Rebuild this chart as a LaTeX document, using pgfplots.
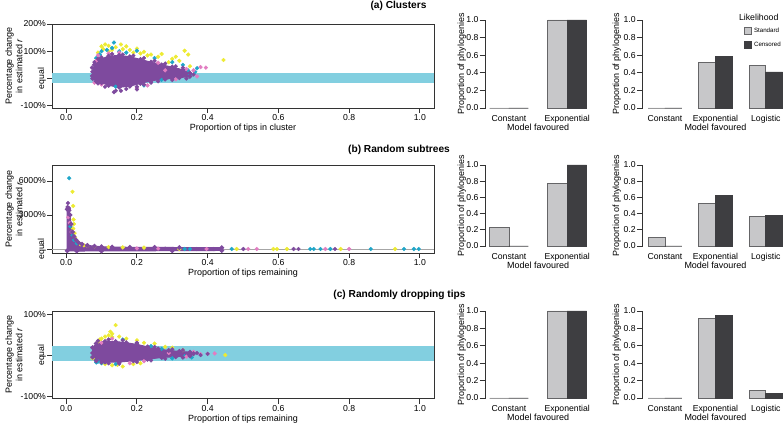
\documentclass[border=0pt]{standalone}
\usepackage{pgfplots}
\pgfplotsset{compat=1.18}
\usepackage{fontspec}
\setmainfont{Liberation Sans}
\usepackage{graphicx}
\definecolor{cpurple}{HTML}{7E4A9E}
\definecolor{cyellow}{HTML}{EDEB33}
\definecolor{ccyan}{HTML}{1FA6C9}
\definecolor{cpink}{HTML}{E27DC2}
\definecolor{cband}{HTML}{82CFE0}
\definecolor{clight}{HTML}{C7C7C9}
\definecolor{cdark}{HTML}{3E3E41}
\definecolor{caxis}{HTML}{333333}
\pgfplotsset{
 sc/.style={scale only axis, width=382bp, xmin=-0.04, xmax=1.04,
  axis line style={draw=caxis, line width=0.9bp},
  tick style={draw=caxis, line width=0.8bp},
  tick align=outside, major tick length=5bp,
  xtick pos=bottom, ytick pos=left,
  xtick={0,0.2,0.4,0.6,0.8,1}, xticklabels={0.0,0.2,0.4,0.6,0.8,1.0},
  ticklabel style={font=\fontsize{8.7}{10}\selectfont, text=black, inner sep=0.3bp},
  xticklabel style={anchor=base, yshift=-8bp},
  yticklabel style={inner sep=1bp},
  label style={font=\fontsize{9}{10.5}\selectfont, inner sep=0.3bp},
  xlabel style={at={(axis description cs:0.5,0)}, anchor=base, yshift=-23bp},
  ylabel style={at={(axis description cs:-0.0995,0.5)}, anchor=center, align=center},
  ylabel={Percentage change\\in estimated \textit{r}},
 },
 band/.style={fill=cband, draw=none, forget plot},
 pts/.style={only marks, mark=*, mark size=1.9bp, color=#1},
 core/.style={fill=cpurple, draw=cpurple, line width=1bp, mark=*, mark size=1.9bp},
 bc/.style={scale only axis, ymin=0, ymax=1, enlargelimits=false, clip=false,
  axis y line*=left, axis x line*=bottom,
  x axis line style={draw=none}, xtick style={draw=none},
  y axis line style={draw=caxis, line width=0.8bp},
  ytick style={draw=caxis, line width=0.8bp},
  tick align=outside, major tick length=6bp,
  ytick={0,0.2,0.4,0.6,0.8,1}, yticklabels={0.0,0.2,0.4,0.6,0.8,1.0},
  ticklabel style={font=\fontsize{8.7}{10}\selectfont, text=black, inner sep=0.3bp},
  yticklabel style={inner sep=1bp},
  xticklabel style={anchor=base, yshift=-7.5bp},
  label style={font=\fontsize{9}{10.5}\selectfont, inner sep=0.3bp},
  xlabel style={at={(axis description cs:0.5,0)}, anchor=base, yshift=-23bp},
  xlabel={Model favoured}, ylabel={Proportion of phylogenies},
 },
 bcA/.style={bc, width=104.8bp, xmin=0.8, xmax=6.2, xtick={2,5}, xticklabels={Constant,Exponential},
  ylabel style={at={(axis description cs:-0.229,0.5)}, anchor=center}},
 bcB/.style={bc, width=145.2bp, xmin=0.68, xmax=9.32, xtick={2,5,8}, xticklabels={Constant,Exponential,Logistic},
  ylabel style={at={(axis description cs:-0.179,0.5)}, anchor=center}},
 lb/.style={ybar, bar width=1, bar shift=0, fill=clight, draw=cdark!80, line width=0.8bp},
 db/.style={ybar, bar width=1, bar shift=0, fill=cdark, draw=cdark, line width=0.8bp},
}
\begin{document}
\begin{tikzpicture}
\useasboundingbox (0,0) rectangle (783bp,425bp);
% titles
\node[font=\fontsize{10.2}{12}\selectfont\bfseries] at (398.5bp,419bp) {(a) Clusters};
\node[font=\fontsize{10.2}{12}\selectfont\bfseries] at (399bp,275bp) {(b) Random subtrees};
\node[font=\fontsize{10.2}{12}\selectfont\bfseries] at (399.5bp,130bp) {(c) Randomly dropping tips};

% ---------------- (a) scatter
\begin{axis}[sc, at={(52bp,317bp)}, anchor=south west, height=84bp, ymin=-108, ymax=200,
 ytick={-100,0,100,200}, yticklabels={-100\%,\rotatebox{90}{equal},100\%,200\%},
 xlabel={Proportion of tips in cluster}]
\addplot[band] coordinates {(-0.04,-15) (1.04,-15) (1.04,22) (-0.04,22)} -- cycle;
\addplot[pts=cyellow] coordinates {(0.11,125) (0.12,120) (0.1,118) (0.14,115) (0.155,125) (0.17,118) (0.18,105) (0.2,110) (0.16,108) (0.19,95) (0.22,98) (0.24,88) (0.27,90) (0.26,80) (0.3,72) (0.32,65) (0.335,102) (0.345,88) (0.445,68) (0.31,80) (0.12,100) (0.09,95) (0.35,45) (0.29,60) (0.23,85) (0.105,108) (0.13,105) (0.21,92)};
\addplot[pts=ccyan] coordinates {(0.135,132) (0.13,112) (0.1,100) (0.115,105) (0.095,88) (0.2,102) (0.17,95) (0.25,75) (0.3,60) (0.33,50) (0.345,30) (0.365,25) (0.37,38) (0.35,15) (0.22,-25) (0.27,-5) (0.085,75) (0.14,-30) (0.15,100)};
\addplot[pts=cpink] coordinates {(0.1,-22) (0.08,-15) (0.12,92) (0.09,85) (0.31,-3) (0.34,35) (0.38,42) (0.395,40) (0.37,8) (0.36,30) (0.26,58) (0.2,-35) (0.23,-25) (0.15,95) (0.28,30) (0.085,65)};
\addplot[core] coordinates {(0.075,25) (0.08,50) (0.095,70) (0.12,82) (0.15,85) (0.18,80) (0.21,70) (0.24,60) (0.27,50) (0.30,42) (0.33,32) (0.35,20) (0.35,8) (0.32,3) (0.28,-2) (0.24,-8) (0.21,-18) (0.18,-28) (0.15,-32) (0.12,-25) (0.10,-15) (0.085,-10) (0.075,0)} -- cycle;
\addplot[pts=cpurple] coordinates {(0.08,60) (0.09,72) (0.1,78) (0.13,90) (0.16,88) (0.19,84) (0.22,75) (0.25,65) (0.28,55) (0.31,45) (0.33,40) (0.36,15) (0.34,0) (0.30,-5) (0.26,-10) (0.22,-22) (0.2,-30) (0.17,-38) (0.14,-45) (0.135,-50) (0.155,-45) (0.11,-30) (0.09,-18) (0.073,10) (0.073,40) (0.2,-40) (0.24,-15) (0.29,20)};
\end{axis}

% ---------------- (a) bars 1
\begin{axis}[bcA, at={(485.7bp,317bp)}, anchor=south west, height=88bp]
\addplot[lb] coordinates {(1.5,0) (4.5,1)};
\addplot[db] coordinates {(2.5,0) (5.5,1)};
\end{axis}
% ---------------- (a) bars 2
\begin{axis}[bcB, at={(642.8bp,317bp)}, anchor=south west, height=88bp,
 legend style={draw=none, fill=none, at={(axis description cs:0.9656,0.93)}, anchor=north east,
  font=\fontsize{6.2}{7}\selectfont, inner sep=0pt, row sep=4bp, cells={anchor=west}},
 legend image code/.code={\draw[#1] (0bp,-3.5bp) rectangle (7.5bp,3.5bp);}]
\addplot[lb] coordinates {(1.5,0) (4.5,0.52) (7.5,0.48)};
\addlegendentry{Standard}
\addplot[db] coordinates {(2.5,0) (5.5,0.59) (8.5,0.41)};
\addlegendentry{Censored}
\end{axis}
\node[font=\fontsize{8.8}{10}\selectfont, anchor=east] at (782bp,408bp) {Likelihood};

% ---------------- (b) scatter
\begin{axis}[sc, at={(52bp,172bp)}, anchor=south west, height=88bp, ymin=-353, ymax=7412,
 ytick={0,3000,6000}, yticklabels={\rotatebox{90}{equal},3000\%,6000\%},
 xlabel={Proportion of tips remaining}]
\addplot[band] coordinates {(-0.04,-15) (1.04,-15) (1.04,22) (-0.04,22)} -- cycle;
\addplot[color=gray!70, line width=0.7bp, forget plot] coordinates {(-0.04,0) (1.04,0)};
\addplot[pts=cyellow] coordinates {(0.018,5050) (0.02,3800) (0.021,2600) (0.022,2200) (0.02,1800) (0.024,1400) (0.025,1000) (0.03,700) (0.035,550) (0.04,420) (0.05,330) (0.06,280) (0.08,220) (0.12,170) (0.16,140) (0.22,120) (0.32,0) (0.482,0) (0.586,0) (0.596,0) (0.624,0) (0.776,0) (0.93,0)};
\addplot[pts=ccyan] coordinates {(0.0085,6250) (0.012,2000) (0.018,1200) (0.022,800) (0.03,500) (0.335,0) (0.35,0) (0.468,0) (0.69,0) (0.70,0) (0.719,0) (0.747,0) (0.861,0) (0.955,0) (0.983,0) (0.997,0)};
\addplot[pts=cpink] coordinates {(0.006,2800) (0.01,2300) (0.015,1500) (0.397,0) (0.515,0) (0.539,0) (0.733,0) (0.80,0) (0.2,50) (0.26,40)};
\addplot[core] coordinates {(0.003,-150) (0.003,3500) (0.007,3600) (0.011,3000) (0.014,2200) (0.018,1500) (0.022,1100) (0.028,800) (0.035,560) (0.045,420) (0.06,320) (0.08,250) (0.1,200) (0.13,170) (0.18,150) (0.25,140) (0.32,130) (0.44,120) (0.44,-130) (0.3,-150) (0.1,-170) (0.03,-180)} -- cycle;
\addplot[pts=cpurple] coordinates {(0.005,4050) (0.004,3700) (0.007,3500) (0.009,3400) (0.368,0) (0.416,0) (0.435,0) (0.501,0) (0.643,0) (0.657,0) (0.76,0) (0.3,0) (0.28,30)};
\end{axis}

% ---------------- (b) bars 1
\begin{axis}[bcA, at={(485.7bp,179bp)}, anchor=south west, height=81bp]
\addplot[lb] coordinates {(1.5,0.23) (4.5,0.77)};
\addplot[db] coordinates {(2.5,0) (5.5,1)};
\end{axis}
% ---------------- (b) bars 2
\begin{axis}[bcB, at={(642.8bp,179bp)}, anchor=south west, height=81bp]
\addplot[lb] coordinates {(1.5,0.11) (4.5,0.52) (7.5,0.37)};
\addplot[db] coordinates {(2.5,0) (5.5,0.62) (8.5,0.38)};
\end{axis}

% ---------------- (c) scatter
\begin{axis}[sc, at={(52bp,26.5bp)}, anchor=south west, height=87.3bp, ymin=-106, ymax=107,
 ytick={-100,0,100}, yticklabels={-100\%,\rotatebox{90}{equal},100\%},
 xlabel={Proportion of tips remaining}]
\addplot[band] coordinates {(-0.04,-15) (1.04,-15) (1.04,22) (-0.04,22)} -- cycle;
\addplot[pts=cyellow] coordinates {(0.14,73) (0.125,57) (0.13,52) (0.12,48) (0.11,45) (0.1,40) (0.15,45) (0.13,44) (0.095,38) (0.17,40) (0.2,36) (0.22,30) (0.25,28) (0.28,20) (0.3,18) (0.075,-8) (0.13,-25) (0.16,-28) (0.145,-24) (0.19,-22) (0.21,-20) (0.45,0) (0.11,-22) (0.09,32) (0.33,12)};
\addplot[pts=ccyan] coordinates {(0.09,-16) (0.085,-18) (0.2,28) (0.16,38) (0.24,22) (0.335,-3) (0.355,-6) (0.1,-20) (0.27,15) (0.14,-22) (0.3,-8)};
\addplot[pts=cpink] coordinates {(0.38,2) (0.4,3) (0.36,8) (0.34,-4) (0.13,40) (0.1,30) (0.22,-15) (0.29,5) (0.18,-20) (0.42,4)};
\addplot[core] coordinates {(0.075,18) (0.085,28) (0.11,33) (0.14,33) (0.17,30) (0.2,26) (0.23,20) (0.26,15) (0.29,11) (0.32,9) (0.35,7) (0.36,3) (0.35,-2) (0.31,-4) (0.27,-6) (0.23,-10) (0.19,-14) (0.15,-17) (0.11,-17) (0.085,-14) (0.075,-5)} -- cycle;
\addplot[pts=cpurple] coordinates {(0.09,35) (0.12,38) (0.16,36) (0.2,30) (0.25,20) (0.3,14) (0.33,12) (0.37,5) (0.38,0) (0.33,-6) (0.28,-9) (0.24,-13) (0.2,-17) (0.15,-21) (0.12,-20) (0.1,-18) (0.074,5) (0.4,3)};
\end{axis}

% ---------------- (c) bars 1
\begin{axis}[bcA, at={(485.7bp,27bp)}, anchor=south west, height=87bp]
\addplot[lb] coordinates {(1.5,0) (4.5,1)};
\addplot[db] coordinates {(2.5,0) (5.5,1)};
\end{axis}
% ---------------- (c) bars 2
\begin{axis}[bcB, at={(642.8bp,27bp)}, anchor=south west, height=87bp]
\addplot[lb] coordinates {(1.5,0) (4.5,0.91) (7.5,0.09)};
\addplot[db] coordinates {(2.5,0) (5.5,0.95) (8.5,0.05)};
\end{axis}
\end{tikzpicture}
\end{document}
